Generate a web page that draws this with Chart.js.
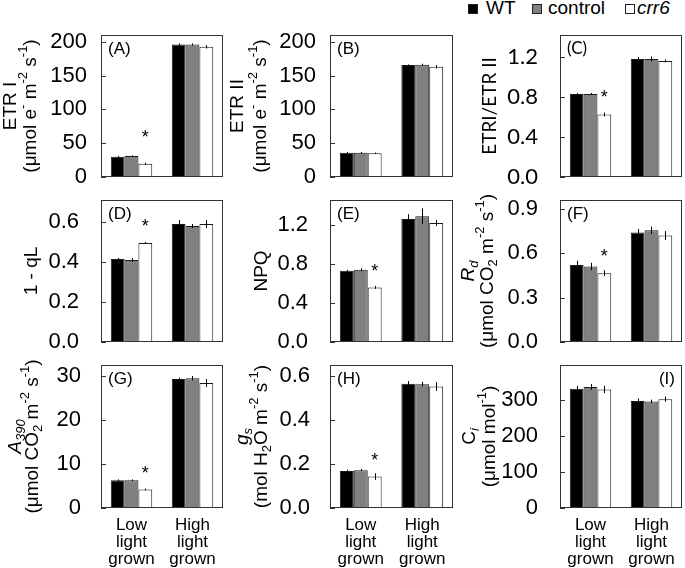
<!DOCTYPE html>
<html lang="en">
<head>
<meta charset="UTF-8">
<title>crr6 photosynthesis panels</title>
<script src="https://cdn.jsdelivr.net/npm/chart.js"></script>
<style>
  body { margin: 0; background: #fff; width: 685px; height: 568px; position: relative; overflow: hidden;
         font-family: 'Liberation Sans', Arial, sans-serif; }
  canvas { position: absolute; }
  .lg-box { position: absolute; top: 4px; width: 8px; height: 8px; border: 1px solid #222; }
  .lg-txt { position: absolute; top: -2px; font-size: 19px; line-height: 20px; color: #000; }
</style>
</head>
<body>
<div class="lg-box" style="left:468px;background:#000"></div>
<div class="lg-txt" style="left:486px">WT</div>
<div class="lg-box" style="left:532px;background:#808080"></div>
<div class="lg-txt" style="left:548px">control</div>
<div class="lg-box" style="left:625px;background:#fff"></div>
<div class="lg-txt" style="left:637px;font-style:italic">crr6</div>

<script>
const groupLabels = [['Low', 'light', 'grown'], ['High', 'light', 'grown']];
const seriesNames = ['WT', 'control', 'crr6'];

// each panel: one row per series (WT, control, crr6), columns = low light, high light
const etr1 = [[30, 196], [31, 196], [19.5, 192.5]];
const etr1Err = [[1, 1.5], [1, 1.5], [1.5, 2.5]];
const etr1Ticks = [0, 50, 100, 150, 200];

const etr2 = [[36, 165.5], [36, 166], [35, 163]];
const etr2Err = [[1, 1], [1, 1.5], [1, 2.5]];
const etr2Ticks = [0, 50, 100, 150, 200];

const ratio = [[0.83, 1.18], [0.83, 1.18], [0.625, 1.16]];
const ratioErr = [[0.01, 0.02], [0.01, 0.025], [0.02, 0.015]];
const ratioTicks = [0, 0.4, 0.8, 1.2];

const qL = [[0.415, 0.59], [0.41, 0.58], [0.495, 0.59]];
const qLErr = [[0.005, 0.02], [0.01, 0.01], [0.005, 0.02]];
const qLTicks = [0, 0.2, 0.4, 0.6];

const npq = [[0.73, 1.26], [0.74, 1.29], [0.56, 1.22]];
const npqErr = [[0.01, 0.05], [0.015, 0.08], [0.015, 0.03]];
const npqTicks = [0, 0.4, 0.8, 1.2];

const rd = [[0.52, 0.74], [0.51, 0.755], [0.465, 0.72]];
const rdErr = [[0.03, 0.025], [0.025, 0.025], [0.02, 0.03]];
const rdTicks = [0, 0.3, 0.6, 0.9];

const a390 = [[6.3, 29.3], [6.3, 29.5], [4.2, 28.4]];
const a390Err = [[0.2, 0.3], [0.2, 0.5], [0.2, 0.9]];
const a390Ticks = [0, 10, 20, 30];

const gs = [[0.168, 0.565], [0.172, 0.563], [0.143, 0.552]];
const gsErr = [[0.006, 0.012], [0.005, 0.01], [0.015, 0.02]];
const gsTicks = [0, 0.2, 0.4, 0.6];

const ci = [[331, 297], [336, 296], [329, 302]];
const ciErr = [[8, 7], [8, 5], [10, 7]];
const ciTicks = [0, 100, 200, 300];

// height of the significance asterisk above the low-light crr6 bar
const starLevels = { A: 65, C: 0.84, D: 0.6, E: 0.77, F: 0.61, G: 8.9, H: 0.236 };

const panels = [
  { id: 'A', row: 0, col: 0, data: etr1, err: etr1Err, ticks: etr1Ticks, max: 210, dec: 0, tickPad: 14,
    title: ['ETR I', '(μmol e^{-} m^{-2} s^{-1})'], titleX: [11, 31] },
  { id: 'B', row: 0, col: 1, data: etr2, err: etr2Err, ticks: etr2Ticks, max: 210, dec: 0, tickPad: 14,
    title: ['ETR II', '(μmol e^{-} m^{-2} s^{-1})'], titleX: [238, 261] },
  { id: 'C', row: 0, col: 2, data: ratio, err: ratioErr, ticks: ratioTicks, max: 1.42, dec: 1, tickPad: 22,
    title: ['ETRI/ETR II'], titleX: [490], font: 'Lato' },
  { id: 'D', row: 1, col: 0, data: qL, err: qLErr, ticks: qLTicks, max: 0.71, dec: 1, tickPad: 22,
    title: ['1 - qL'], titleX: [32] },
  { id: 'E', row: 1, col: 1, data: npq, err: npqErr, ticks: npqTicks, max: 1.456, dec: 1, tickPad: 22,
    title: ['NPQ'], titleX: [262] },
  { id: 'F', row: 1, col: 2, data: rd, err: rdErr, ticks: rdTicks, max: 0.96, dec: 1, tickPad: 22,
    title: ['~{R}%{d}', '(μmol CO_{2} m^{-2} s^{-1})'], titleX: [469, 488] },
  { id: 'G', row: 2, col: 0, data: a390, err: a390Err, ticks: a390Ticks, max: 32.5, dec: 0, tickPad: 20,
    title: ['~{A}%{390}', '(μmol CO_{2} m^{-2} s^{-1})'], titleX: [16, 33] },
  { id: 'H', row: 2, col: 1, data: gs, err: gsErr, ticks: gsTicks, max: 0.65, dec: 1, tickPad: 20,
    title: ['~{g}%{s}', '(mol H_{2}O m^{-2} s^{-1})'], titleX: [243, 262] },
  { id: 'I', row: 2, col: 2, data: ci, err: ciErr, ticks: ciTicks, max: 397, dec: 0, tickPad: 22,
    title: ['C%{i}', '(μmol mol^{-1})'], titleX: [470, 490], letterRight: true }
];

const colCanvas = [[0, 230], [230, 228], [458, 227]];   // left, width
const colBox = [[101, 223], [330, 453], [560, 682]];    // plot box left, right
const rowCanvas = [[28, 157], [186, 166], [353, 215]];  // top, height
const rowBox = [[35, 177], [200, 342], [365, 508]];     // plot box top, bottom

const fills = ['#000000', '#808080', '#ffffff'];
const lineCol = '#333333';

// tiny markup: ^{sup} _{sub} ~{italic} %{italic sub}
function parseRich(s) {
  const out = [];
  const re = /([\^_~%])\{([^}]*)\}|([^\^_~%]+)/g;
  let m;
  while ((m = re.exec(s))) {
    if (m[3]) out.push({ t: m[3], k: 'n' });
    else out.push({ t: m[2], k: { '^': 'sup', '_': 'sub', '~': 'it', '%': 'isub' }[m[1]] });
  }
  return out;
}

function drawRich(ctx, str, size, family) {
  const segs = parseRich(str);
  const fontFor = k => {
    const small = (k === 'sup' || k === 'sub' || k === 'isub');
    const it = (k === 'it' || k === 'isub') ? 'italic ' : '';
    return it + (small ? Math.round(size * 0.68) : size) + 'px ' + family;
  };
  let w = 0;
  segs.forEach(s => { ctx.font = fontFor(s.k); s.w = ctx.measureText(s.t).width; w += s.w; });
  let x = -w / 2;
  ctx.textAlign = 'left';
  ctx.textBaseline = 'middle';
  segs.forEach(s => {
    ctx.font = fontFor(s.k);
    let dy = 0;
    if (s.k === 'sup') dy = -size * 0.38;
    if (s.k === 'sub' || s.k === 'isub') dy = size * 0.3;
    ctx.fillText(s.t, x, dy);
    x += s.w;
  });
}

function panelPlugin(p, canvasLeft) {
  return {
    id: 'panel' + p.id,
    afterDatasetsDraw(chart) {
      const ctx = chart.ctx;
      const area = chart.chartArea;
      const ys = chart.scales.y;
      const fam = p.font || "'Liberation Sans', Arial, sans-serif";
      ctx.save();
      // error bars
      ctx.strokeStyle = '#000';
      ctx.lineWidth = 1;
      p.data.forEach((vals, k) => {
        const meta = chart.getDatasetMeta(k);
        vals.forEach((v, i) => {
          const x = Math.round(meta.data[i].x) + 0.5;
          ctx.beginPath();
          ctx.moveTo(x, ys.getPixelForValue(v + p.err[k][i]));
          ctx.lineTo(x, ys.getPixelForValue(v - p.err[k][i]));
          ctx.stroke();
        });
      });
      // frame and inward ticks
      ctx.strokeStyle = lineCol;
      ctx.strokeRect(Math.round(area.left) + 0.5, Math.round(area.top) + 0.5,
                     Math.round(area.width) - 1, Math.round(area.height) - 1);
      p.ticks.forEach(v => {
        const y = Math.round(ys.getPixelForValue(v)) + 0.5;
        ctx.beginPath();
        ctx.moveTo(area.left, y);
        ctx.lineTo(area.left + 5, y);
        ctx.stroke();
      });
      // asterisk
      const star = starLevels[p.id];
      if (star !== undefined) {
        const el = chart.getDatasetMeta(2).data[0];
        ctx.fillStyle = '#000';
        ctx.font = "18px 'Liberation Sans', Arial, sans-serif";
        ctx.textAlign = 'center';
        ctx.textBaseline = 'alphabetic';
        ctx.fillText('*', el.x, ys.getPixelForValue(star) + 10);
      }
      // panel letter
      ctx.fillStyle = '#000';
      ctx.font = '17px ' + fam;
      ctx.textBaseline = 'middle';
      if (p.letterRight) {
        ctx.textAlign = 'right';
        ctx.fillText('(' + p.id + ')', area.right - 7, area.top + 14);
      } else {
        ctx.textAlign = 'left';
        ctx.fillText('(' + p.id + ')', area.left + 7, area.top + 14);
      }
      // y title
      const cy = (area.top + area.bottom) / 2;
      p.title.forEach((line, j) => {
        ctx.save();
        ctx.translate(p.titleX[j] - canvasLeft, cy);
        ctx.rotate(-Math.PI / 2);
        drawRich(ctx, line, 19, fam);
        ctx.restore();
      });
      ctx.restore();
    }
  };
}

panels.forEach(p => {
  const [cl, cw] = colCanvas[p.col];
  const [ct, ch] = rowCanvas[p.row];
  const [bl, br] = colBox[p.col];
  const [bt, bb] = rowBox[p.row];
  const cv = document.createElement('canvas');
  cv.width = cw; cv.height = ch;
  cv.style.left = cl + 'px'; cv.style.top = ct + 'px';
  cv.style.width = cw + 'px'; cv.style.height = ch + 'px';
  document.body.appendChild(cv);
  const fam = p.font || "'Liberation Sans', Arial, sans-serif";

  new Chart(cv.getContext('2d'), {
    type: 'bar',
    data: {
      labels: groupLabels,
      datasets: seriesNames.map((name, k) => ({
        label: name,
        data: p.data[k],
        backgroundColor: fills[k],
        borderColor: '#1a1a1a',
        borderWidth: 1,
        categoryPercentage: 0.68,
        barPercentage: 1
      }))
    },
    options: {
      responsive: false,
      animation: false,
      devicePixelRatio: 1,
      layout: { padding: { top: bt - ct, right: cl + cw - br, left: 0, bottom: 0 } },
      plugins: { legend: { display: false }, tooltip: { enabled: false } },
      scales: {
        x: {
          grid: { display: false, drawTicks: false },
          border: { display: false },
          ticks: {
            display: p.row === 2,
            color: '#000',
            font: { family: fam, size: 17, lineHeight: 1 },
            padding: 9,
            maxRotation: 0,
            autoSkip: false
          },
          afterFit: s => { s.height = ct + ch - bb; s.paddingLeft = 0; s.paddingRight = 0; }
        },
        y: {
          min: 0,
          max: p.max,
          grid: { display: false, drawTicks: false },
          border: { display: false },
          ticks: {
            color: '#000',
            font: { family: fam, size: 22 },
            padding: p.tickPad,
            callback: v => v.toFixed(p.dec)
          },
          afterBuildTicks: s => { s.ticks = p.ticks.map(v => ({ value: v })); },
          afterFit: s => { s.width = bl - cl; s.paddingTop = 0; s.paddingBottom = 0; }
        }
      }
    },
    plugins: [panelPlugin(p, cl)]
  });
});
</script>
</body>
</html>
